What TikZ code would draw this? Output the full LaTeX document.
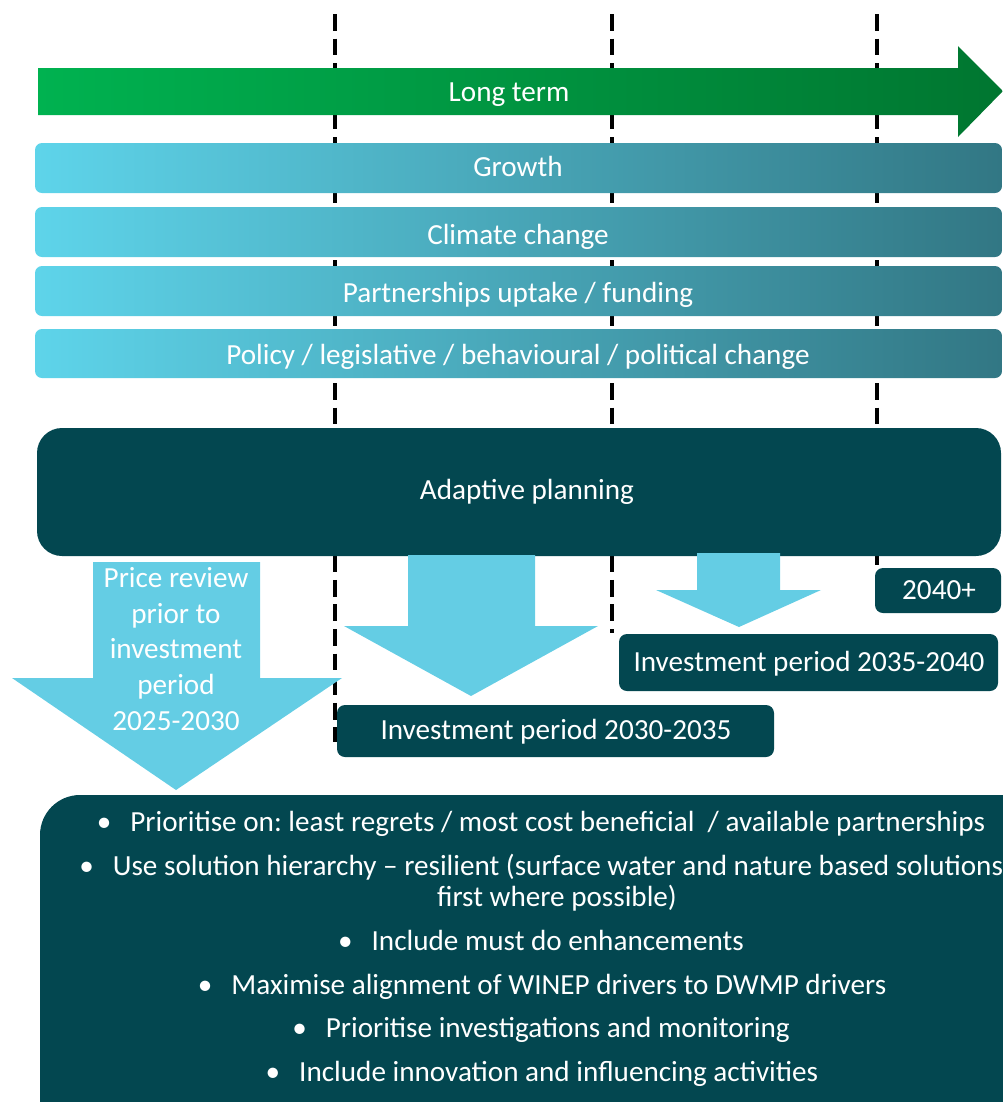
\documentclass[tikz,border=0pt]{standalone}
\usepackage{fontspec}
\setmainfont{Carlito}
\usetikzlibrary{positioning}
\frenchspacing

\definecolor{greenL}{RGB}{0,178,80}
\definecolor{greenR}{RGB}{0,118,48}
\definecolor{barL}{RGB}{94,212,234}
\definecolor{barR}{RGB}{50,119,132}
\definecolor{deepteal}{RGB}{3,71,80}
\definecolor{skyarrow}{RGB}{100,205,228}

\tikzset{
  lbl/.style={text=white, inner sep=0pt, font=\fontsize{16.6}{20.4}\selectfont},
  oneline/.style={lbl, text height=12.5pt, text depth=1.5pt},
  yearline/.style={line width=2.3pt, dash pattern=on 9.5pt off 4.5pt},
  trendbar/.style={left color=barL, right color=barR, rounded corners=1.4mm},
  tealbox/.style={fill=deepteal, rounded corners=1.6mm},
  downarrow/.style={fill=skyarrow}
}

\begin{document}
\begin{tikzpicture}[x=0.2mm,y=-0.2mm]
  \useasboundingbox (0,0) rectangle (1003,1102);
  \clip (0,0) rectangle (1003,1102);

  % period boundaries
  \foreach \xpos/\yend in {335/742,612/633,877/565}
    \draw[yearline] (\xpos,14) -- (\xpos,\yend);

  % long term arrow
  \shade[left color=greenL, right color=greenR]
    (38,68) -- (958,68) -- (958,46) -- (1003,91) -- (958,137) -- (958,115) -- (38,115) -- cycle;
  \node[oneline] (longterm) at (509,92) {Long term};

  % drivers
  \shade[trendbar] (35,143) rectangle (1002,193);
  \node[oneline] (growth) at (518,167) {Growth};
  \shade[trendbar] (35,207) rectangle (1002,257);
  \node[oneline] (climate) at (518,235) {Climate change};
  \shade[trendbar] (35,266) rectangle (1002,316);
  \node[oneline] (partners) at (518,293) {Partnerships uptake / funding};
  \shade[trendbar] (35,329) rectangle (1002,378);
  \node[oneline] (policy) at (518,355) {Policy / legislative / behavioural / political change};

  % adaptive planning
  \fill[tealbox, rounded corners=5mm] (37,428) rectangle (1001,556);
  \node[oneline] (adaptive) at (527,490) {Adaptive planning};

  % block arrows down
  \fill[downarrow] (93,562) -- (260,562) -- (260,678) -- (342,678) -- (176,790) -- (12,678) -- (93,678) -- cycle;
  \node[lbl, align=center] (pricereview) at (176,649)
    {Price review\\prior to\\investment\\period\\2025-2030};
  \fill[downarrow] (408,555) -- (535,555) -- (535,626) -- (598,626) -- (471,696) -- (344,626) -- (408,626) -- cycle;
  \fill[downarrow] (697,553) -- (780,553) -- (780,590) -- (821,590) -- (739,627) -- (656,590) -- (697,590) -- cycle;

  % periods
  \fill[tealbox] (875,568) rectangle (1001,613);
  \node[oneline] (later) at (939,590) {2040+};
  \fill[tealbox] (619,634) rectangle (998,691);
  \node[oneline] (period3) at (809,662) {Investment period 2035-2040};
  \fill[tealbox] (337,705) rectangle (774,757);
  \node[oneline] (period2) at (556,730) {Investment period 2030-2035};

  % priorities
  \fill[tealbox, rounded corners=8mm] (40,795) rectangle (1040,1160);
  \node[oneline] (item1) at (541,822)
    {•\hspace{0.65em}Prioritise on: least regrets / most cost beneficial\ \ / available partnerships};
  \node[oneline, anchor=west] (item2) at (79,866)
    {•\hspace{0.65em}Use solution hierarchy – resilient (surface water and nature based solutions};
  \node[oneline] (item2b) at (557,897) {first where possible)};
  \node[oneline] (item3) at (541,941) {•\hspace{0.65em}Include must do enhancements};
  \node[oneline] (item4) at (542,985) {•\hspace{0.65em}Maximise alignment of WINEP drivers to DWMP drivers};
  \node[oneline] (item5) at (541,1028) {•\hspace{0.65em}Prioritise investigations and monitoring};
  \node[oneline] (item6) at (542,1072) {•\hspace{0.65em}Include innovation and influencing activities};
\end{tikzpicture}
\end{document}
